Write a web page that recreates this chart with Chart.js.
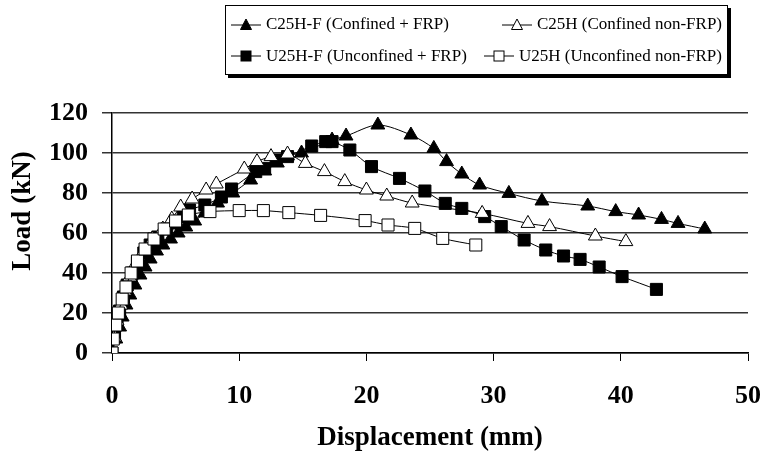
<!DOCTYPE html>
<html>
<head>
<meta charset="utf-8">
<script src="https://cdn.jsdelivr.net/npm/chart.js@4.4.1/dist/chart.umd.min.js"></script>
<style>
  body { margin: 0; background: #fff; }
  #wrap { position: relative; width: 767px; height: 459px; }
  #legend {
    position: absolute; left: 225px; top: 5px; width: 503px; height: 70px;
    border: 1px solid #000; box-shadow: 3px 3px 0 #000; background: #fff;
    font-family: "Liberation Serif", "Times New Roman", serif; font-size: 17px;
    box-sizing: border-box; padding: 2px 5px;
  }
  .row { display: flex; justify-content: space-between; align-items: center; height: 32px; }
  .item { display: flex; align-items: center; white-space: nowrap; }
  .item svg { margin-right: 5px; }
</style>
</head>
<body>
<div id="wrap">
  <canvas id="chart"></canvas>
  <div id="legend"></div>
</div>
<script>
// Load - displacement curves
const c25hfX = [0, 0.3, 0.6, 0.8, 1.1, 1.4, 1.8, 2.2, 2.6, 3.0, 3.5, 4.0, 4.6, 5.2, 5.8, 6.5, 7.3, 8.3, 9.5, 10.9, 12.0, 13.0, 13.8, 14.9, 17.3, 18.4, 20.9, 23.5, 25.3, 26.3, 27.5, 28.9, 31.2, 33.8, 37.4, 39.6, 41.4, 43.2, 44.5, 46.6];
const c25hfY = [0, 7, 13, 18, 24, 29, 34, 39, 43, 47, 51, 54, 57, 60, 63, 66, 70, 75, 80, 86.5, 91, 95, 98.5, 100, 106.5, 108.5, 114, 109, 102.3, 95.7, 89.5, 84, 79.8, 76, 73.5, 70.7, 69, 66.8, 64.8, 62];

const c25hX = [0, 0.2, 0.4, 0.7, 1.0, 1.4, 1.9, 2.5, 3.2, 4.0, 4.7, 5.4, 6.3, 7.4, 8.2, 10.4, 11.4, 12.5, 13.8, 15.2, 16.7, 18.3, 20.0, 21.6, 23.6, 29.1, 32.7, 34.4, 38.0, 40.4];
const c25hY = [0, 8, 16, 24, 31, 38, 45, 51, 57, 62, 67, 73, 77, 81.5, 84.5, 92, 95.7, 98.2, 99.5, 94.8, 90.7, 85.7, 81.5, 78.5, 75, 69.8, 64.8, 63.2, 58.5, 55.7];

const u25hfX = [0, 0.2, 0.4, 0.6, 0.9, 1.2, 1.6, 2.0, 2.5, 3.0, 3.6, 4.3, 5.0, 5.6, 6.1, 7.3, 8.6, 9.4, 11.3, 12.0, 12.9, 13.8, 15.7, 16.8, 17.3, 18.7, 20.4, 22.6, 24.6, 26.2, 27.5, 29.3, 30.6, 32.4, 34.1, 35.5, 36.8, 38.3, 40.1, 42.8];
const u25hfY = [0, 8, 15, 21, 28, 34, 40, 45, 50, 54, 58, 62, 65, 68, 71.5, 74, 78, 82, 90.7, 92.3, 96.5, 98.2, 103.5, 105.7, 105.7, 101.5, 93.2, 87.3, 81, 74.8, 72.3, 68.2, 63.2, 56.5, 51.5, 48.5, 46.8, 43, 38.2, 31.8];

const u25hX = [0, 0.1, 0.3, 0.5, 0.8, 1.1, 1.5, 2.0, 2.6, 3.3, 4.1, 5.0, 6.0, 7.7, 10.0, 11.9, 13.9, 16.4, 19.9, 21.7, 23.8, 26.0, 28.6];
const u25hY = [0, 7, 14, 20, 27, 33, 40, 46, 52, 57, 62, 66, 69, 70.7, 71.2, 71.2, 70.2, 68.8, 66.2, 64, 62.3, 57.3, 54];

const seriesNames = ['C25H-F (Confined + FRP)', 'C25H (Confined non-FRP)', 'U25H-F (Unconfined + FRP)', 'U25H (Unconfined non-FRP)'];
const xTicks = [0, 10, 20, 30, 40, 50];
const yTicks = [0, 20, 40, 60, 80, 100, 120];

const serif = '"Liberation Serif", "Times New Roman", serif';

function pts(xs, ys) {
    return xs.map((x, i) => ({ x: x, y: ys[i] }));
}

function series(label, xs, ys, style, filled) {
    return {
        label: label,
        data: pts(xs, ys),
        showLine: true,
        borderColor: '#000',
        borderWidth: 1,
        tension: 0.3,
        pointStyle: style,
        pointRadius: style === 'rect' ? 8.5 : 8,
        pointBorderWidth: 1,
        pointBorderColor: '#000',
        pointBackgroundColor: filled ? '#000' : '#fff'
    };
}

// y axis title sits a bit above the middle in the original
const yTitle = {
    id: 'yTitle',
    afterDraw(chart) {
        const ctx = chart.ctx;
        ctx.save();
        ctx.translate(23, 211);
        ctx.rotate(-Math.PI / 2);
        ctx.font = 'bold 27px ' + serif;
        ctx.fillStyle = '#000';
        ctx.textAlign = 'center';
        ctx.textBaseline = 'middle';
        ctx.fillText('Load (kN)', 0, 0);
        ctx.restore();
    }
};

new Chart(document.getElementById('chart'), {
    type: 'scatter',
    data: {
        datasets: [
            series(seriesNames[3], u25hX, u25hY, 'rect', false),
            series(seriesNames[1], c25hX, c25hY, 'triangle', false),
            series(seriesNames[2], u25hfX, u25hfY, 'rect', true),
            series(seriesNames[0], c25hfX, c25hfY, 'triangle', true)
        ]
    },
    options: {
        responsive: true,
        maintainAspectRatio: false,
        animation: false,
        layout: { padding: { top: 113, right: 19, left: 0, bottom: 0 } },
        plugins: {
            legend: { display: false },
            tooltip: { enabled: false }
        },
        scales: {
            x: {
                type: 'linear',
                min: 0,
                max: 50,
                afterBuildTicks: (s) => { s.ticks = xTicks.map(v => ({ value: v })); },
                ticks: { color: '#000', padding: 20, font: { family: serif, size: 26, weight: 'bold' } },
                grid: { drawOnChartArea: false, color: '#000', tickLength: 8 },
                border: { color: '#000', width: 1.5 },
                title: {
                    display: true,
                    text: 'Displacement (mm)',
                    color: '#000',
                    font: { family: serif, size: 27, weight: 'bold' },
                    padding: { top: 0, bottom: 5 }
                },
                afterFit: (s) => { s.height = 106; s.paddingLeft = 0; s.paddingRight = 0; }
            },
            y: {
                min: 0,
                max: 120,
                afterBuildTicks: (s) => { s.ticks = yTicks.map(v => ({ value: v })); },
                ticks: { color: '#000', padding: 14, font: { family: serif, size: 26, weight: 'bold' } },
                grid: { color: '#333', lineWidth: 1.5, tickLength: 10 },
                border: { color: '#000', width: 1.5 },
                afterFit: (s) => { s.width = 112; }
            }
        }
    },
    plugins: [yTitle]
});

// legend drawn as html box with shadow like the original
const markers = {
    tri: (fill) => '<svg width="30" height="14"><line x1="0" y1="8" x2="30" y2="8" stroke="#000"/><polygon points="15,2 20.5,12.5 9.5,12.5" fill="' + fill + '" stroke="#000"/></svg>',
    sq: (fill) => '<svg width="30" height="14"><line x1="0" y1="7" x2="30" y2="7" stroke="#000"/><rect x="10" y="2" width="10" height="10" fill="' + fill + '" stroke="#000"/></svg>'
};
const rows = [
    [[markers.tri('#000'), seriesNames[0]], [markers.tri('#fff'), seriesNames[1]]],
    [[markers.sq('#000'), seriesNames[2]], [markers.sq('#fff'), seriesNames[3]]]
];
document.getElementById('legend').innerHTML = rows.map(r =>
    '<div class="row">' + r.map(it => '<div class="item">' + it[0] + '<span>' + it[1] + '</span></div>').join('') + '</div>'
).join('');
</script>
</body>
</html>
